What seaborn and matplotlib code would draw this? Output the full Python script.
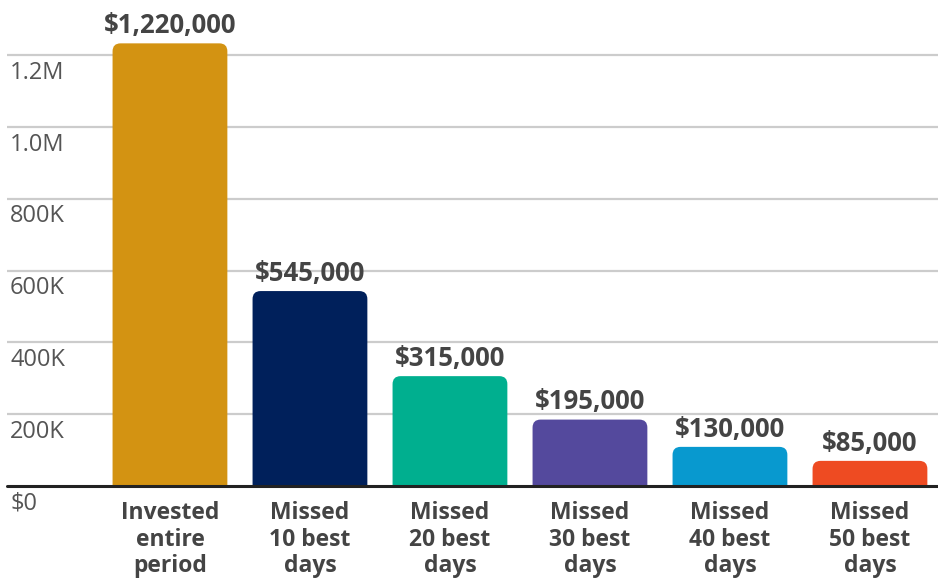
import pandas as pd
import numpy as np
import matplotlib.pyplot as plt
import seaborn as sns
from matplotlib.patches import FancyBboxPatch
from matplotlib.transforms import blended_transform_factory

categories = ['Invested\nentire\nperiod', 'Missed\n10 best\ndays', 'Missed\n20 best\ndays',
              'Missed\n30 best\ndays', 'Missed\n40 best\ndays', 'Missed\n50 best\ndays']
values = [1233000, 543000, 306000, 185000, 109000, 70000]
value_labels = ['$1,220,000', '$545,000', '$315,000', '$195,000', '$130,000', '$85,000']
colors = ['#D39312', '#00205B', '#00AF8F', '#54499D', '#0899CF', '#EE4B22']
y_ticks = [0, 200000, 400000, 600000, 800000, 1000000, 1200000]
y_tick_labels = ['$0', '200K', '400K', '600K', '800K', '1.0M', '1.2M']

sns.set_style('white')
plt.rcParams['font.family'] = ['Open Sans', 'DejaVu Sans']

fig = plt.figure(figsize=(9.38, 5.79), dpi=100)
ax = fig.add_axes([7 / 938, 1 - 486 / 579, 931 / 938, 476 / 579])

df = pd.DataFrame({'cat': categories, 'value': values})
sns.barplot(data=df, x='cat', y='value', hue='cat', palette=colors, legend=False,
            width=0.82, saturation=1, ax=ax)

ax.set_xlim(-1.164, 5.486)
ax.set_ylim(0, 476 / 359 * 1e6)

# round the top corners of every bar (bottom corners are clipped by the axis)
px_x = 1 / 140
px_y = 1e6 / 359
r = 8
for p in list(ax.patches):
    x0, w, h = p.get_x(), p.get_width(), p.get_height()
    fc = p.get_facecolor()
    p.remove()
    box = FancyBboxPatch((x0, -r * px_y * 2), w, h + r * px_y * 2,
                         boxstyle=f'round,pad=0,rounding_size={r * px_x}',
                         mutation_aspect=px_y / px_x, fc=fc, ec='none', zorder=3)
    ax.add_patch(box)

# gridlines
for t in y_ticks[1:]:
    ax.axhline(t, color='#cccccc', lw=1.6, zorder=1)
ax.axhline(0, color='#222222', lw=2.2, zorder=4, clip_on=False)

trans = blended_transform_factory(ax.transAxes, ax.transData)
for t, lab in zip(y_ticks, y_tick_labels):
    ax.annotate(lab, (3 / 931, t), xycoords=trans, xytext=(0, -4), textcoords='offset points',
                ha='left', va='top', fontsize=17, fontweight='normal', color='#555555',
                annotation_clip=False)

for i, (v, lab) in enumerate(zip(values, value_labels)):
    ax.annotate(lab, (i, v), xytext=(0, 3), textcoords='offset points', ha='center',
                va='bottom', fontsize=18.5, fontweight='bold', color='#444444',
                annotation_clip=False)

ax.set_yticks([])
ax.set_xlabel('')
ax.set_ylabel('')
ax.tick_params(axis='x', length=0, pad=11)
for lab in ax.get_xticklabels():
    lab.set_fontsize(16.5)
    lab.set_fontweight('bold')
    lab.set_color('#444444')
    lab.set_linespacing(1.14)
sns.despine(ax=ax, left=True, bottom=True)

fig.savefig('out.png', dpi=100)
